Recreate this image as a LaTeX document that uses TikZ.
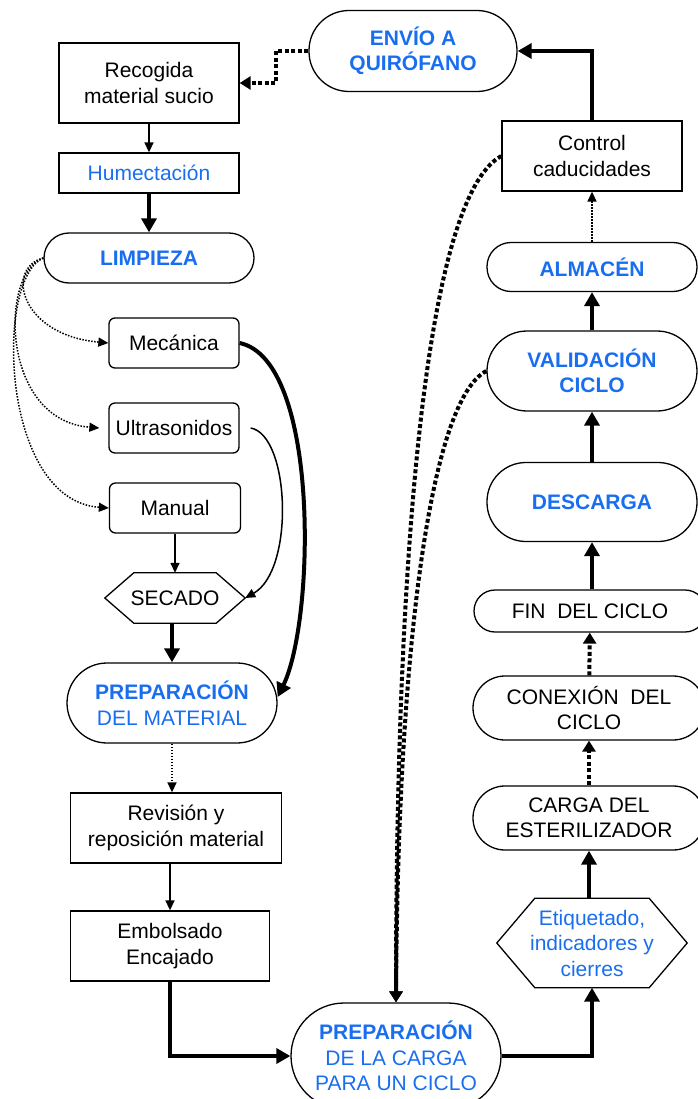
\documentclass[tikz,border=0pt]{standalone}
\usepackage{fontspec}
\setmainfont{Liberation Sans}
\usetikzlibrary{positioning, arrows.meta}
\definecolor{azul}{RGB}{25,110,240}
\tikzset{
        x=1pt, y=1pt,
        every node/.style={font=\fontsize{21}{25.5}\selectfont, align=center, inner sep=2pt},
        caja/.style={draw, line width=1.3pt, rectangle},
        cajar/.style={caja, rounded corners=6pt, minimum width=130pt, minimum height=50pt},
        ovalo/.style={draw, line width=1.3pt, rectangle, rounded corners=#1},
        ovalo/.default=25pt,
        borde/.style={line width=1.3pt, line join=miter},
        negrita/.style={text=azul, font=\fontsize{21}{25.5}\selectfont\bfseries},
        fino/.style={line width=1.5pt, -{Triangle[length=10pt,width=9pt]}},
        grueso/.style={line width=4pt, -{Triangle[length=14pt,width=15pt]}},
        puntos/.style={line width=1.5pt, dash pattern=on 1.5pt off 1.5pt, -{Triangle[length=10pt,width=9pt]}},
        puntosg/.style={line width=4pt, dash pattern=on 4pt off 2.5pt, -{Triangle[length=11pt,width=13pt]}}
        }
\begin{document}
\begin{tikzpicture}
        \useasboundingbox (0,0) rectangle (697,-1099);
        % columna izquierda
        \node[caja, minimum width=180pt, minimum height=80pt] (recogida) at (149,-83) {Recogida\\material sucio};
        \node[caja, text=azul, minimum width=180pt, minimum height=40pt] (humectacion) at (149,-173) {Humectación};
        \node[ovalo, negrita, minimum width=210pt, minimum height=50pt] (limpieza) at (149,-258) {LIMPIEZA};
        \node[cajar] (mecanica) at (174,-343) {Mecánica};
        \node[cajar] (ultrasonidos) at (174,-428) {Ultrasonidos};
        \node[cajar, minimum width=131pt] (manual) at (175,-508) {Manual};
        \node[minimum width=140pt, minimum height=50pt] (secado) at (175,-598) {SECADO};
        \draw[borde] (secado.west) -- ([xshift=29pt]secado.north west) -- ([xshift=-29pt]secado.north east)
              -- (secado.east) -- ([xshift=-29pt]secado.south east) -- ([xshift=29pt]secado.south west) -- cycle;
        \node[ovalo=40pt, text=azul, minimum width=210pt, minimum height=80pt] (prepmaterial) at (172,-703) {\textbf{PREPARACIÓN}\\DEL MATERIAL};
        \node[caja, minimum width=211pt, minimum height=70pt] (revision) at (176,-828) {Revisión y\\reposición material};
        \node[caja, minimum width=199pt, minimum height=70pt] (embolsado) at (170,-946) {Embolsado\\Encajado};
        \node[ovalo=53pt, text=azul, minimum width=210pt, minimum height=106pt] (prepcarga) at (396,-1056) {\textbf{PREPARACIÓN}\\DE LA CARGA\\PARA UN CICLO};
        % columna derecha
        \node[text=azul, minimum width=190pt, minimum height=89pt] (etiquetado) at (592,-943) {Etiquetado,\\indicadores y\\cierres};
        \draw[borde] (etiquetado.west) -- ([xshift=38pt]etiquetado.north west) -- ([xshift=-38pt]etiquetado.north east)
              -- (etiquetado.east) -- ([xshift=-38pt]etiquetado.south east) -- ([xshift=38pt]etiquetado.south west) -- cycle;
        \node[ovalo=32pt, minimum width=232pt, minimum height=64pt] (carga) at (589,-818) {CARGA DEL\\ESTERILIZADOR};
        \node[ovalo=32pt, minimum width=232pt, minimum height=64pt] (conexion) at (589,-708) {CONEXIÓN~~DEL\\CICLO};
        \node[ovalo=21pt, minimum width=232pt, minimum height=42pt] (fin) at (590,-611) {FIN~~DEL CICLO};
        \node[ovalo=39pt, negrita, minimum width=210pt, minimum height=79pt] (descarga) at (592,-502) {DESCARGA};
        \node[ovalo=40pt, negrita, minimum width=210pt, minimum height=80pt] (validacion) at (592,-371) {VALIDACIÓN\\CICLO};
        \node[ovalo=24pt, negrita, minimum width=210pt, minimum height=49pt] (almacen) at (592,-267) {ALMACÉN};
        \node[caja, minimum width=180pt, minimum height=70pt] (control) at (592,-156) {Control\\caducidades};
        \node[ovalo=40pt, negrita, minimum width=208pt, minimum height=81pt] (envio) at (413,-51) {ENVÍO A\\QUIRÓFANO};

        \draw[puntosg] (envio.west) -- ++(-32,0) |- (recogida.east);
        \draw[fino] (recogida) -- (humectacion);
        \draw[grueso] (humectacion) -- (limpieza);
        \draw[puntos] (limpieza.west) .. controls (5,-268) and (20,-335) .. (mecanica.west);
        \draw[puntos] (limpieza.west) .. controls (0,-272) and (0,-420) .. ([xshift=-9pt]ultrasonidos.west);
        \draw[puntos] (limpieza.west) .. controls (-5,-278) and (0,-500) .. (manual.west);
        \draw[grueso] (mecanica.east) .. controls (320,-360) and (315,-620) .. ([yshift=6pt]prepmaterial.east);
        \draw[fino] ([xshift=11pt]ultrasonidos.east) .. controls (290,-435) and (295,-570) .. (secado.east);
        \draw[fino] (manual) -- (secado);
        \draw[grueso] (secado.south -| prepmaterial.north) -- (prepmaterial.north);
        \draw[puntos] (prepmaterial.south) -- (prepmaterial.south |- revision.north);
        \draw[fino] (embolsado.north |- revision.south) -- (embolsado.north);
        \draw[grueso] (embolsado.south) |- (prepcarga.west);
        \draw[grueso] (prepcarga.east) -| (etiquetado.south);
        \draw[grueso] (etiquetado.north -| carga.south) -- (carga.south);
        \draw[puntosg] (carga) -- (conexion);
        \draw[puntosg] (conexion) -- (fin);
        \draw[grueso] (fin.north -| descarga.south) -- (descarga.south);
        \draw[grueso] (descarga) -- (validacion);
        \draw[grueso] (validacion) -- (almacen);
        \draw[puntos] (almacen) -- (control);
        \draw[grueso] (control.north) |- (envio.east);
        \draw[puntosg] (control.west) .. controls (420,-200) and (396,-600) .. (prepcarga.north);
        \draw[puntosg] (validacion.west) .. controls (430,-400) and (398,-650) .. (prepcarga.north);
\end{tikzpicture}
\end{document}
